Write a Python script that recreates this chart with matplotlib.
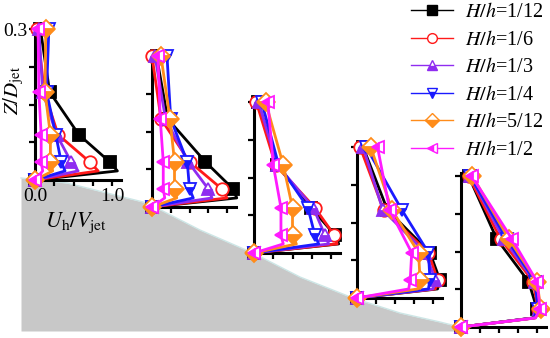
import numpy as np
import matplotlib
matplotlib.use('Agg')
import matplotlib.pyplot as plt
from matplotlib.lines import Line2D

plt.rcParams['font.family'] = ['Liberation Serif', 'DejaVu Serif']
plt.rcParams['mathtext.fontset'] = 'stix'

# H/h cases
cases = ['1/12', '1/6', '1/3', '1/4', '5/12', '1/2']
colors = ['black', '#ff1a1a', '#8f2cf0', '#1a1aff', '#ff8c1a', '#ff1aff']
markers = ['s', 'o', '^', 'v', 'D', '<']
fills = ['full', 'full', 'bottom', 'bottom', 'bottom', 'left']
face = ['black', 'white', None, None, None, None]

# heights Z/D_jet of the profile points (markers on all but the second)
z = [0, 0.018, 0.036, 0.09, 0.175, 0.3]

# U_h/V_jet at each station, one row per case
u_st1 = [[0, 1.07, 0.97, 0.57, 0.19, 0.07],
         [0, 0.82, 0.71, 0.30, 0.12, 0.03],
         [0, 0.56, 0.47, 0.28, 0.10, 0.05],
         [0, 0.39, 0.34, 0.27, 0.15, 0.18],
         [0, 0.23, 0.20, 0.20, 0.13, 0.14],
         [0, 0.10, 0.08, 0.08, 0.05, 0.04]]
u_st2 = [[0, 1.13, 1.08, 0.71, 0.21, 0.06],
         [0, 1.00, 0.93, 0.50, 0.12, 0.00],
         [0, 0.80, 0.75, 0.48, 0.18, 0.04],
         [0, 0.55, 0.50, 0.47, 0.25, 0.20],
         [0, 0.33, 0.30, 0.30, 0.24, 0.12],
         [0, 0.17, 0.15, 0.15, 0.11, 0.08]]
u_st3 = [[0, 1.10, 1.05, 0.74, 0.30, 0.05],
         [0, 1.08, 1.04, 0.79, 0.28, 0.03],
         [0, 0.97, 0.92, 0.77, 0.30, 0.06],
         [0, 0.84, 0.79, 0.70, 0.32, 0.10],
         [0, 0.55, 0.50, 0.50, 0.38, 0.15],
         [0, 0.38, 0.35, 0.35, 0.25, 0.18]]
u_st4 = [[0, 1.06, 1.09, 0.96, 0.40, 0.08],
         [0, 1.03, 1.06, 0.94, 0.35, 0.04],
         [0, 1.00, 1.03, 0.90, 0.34, 0.08],
         [0, 0.94, 0.96, 0.94, 0.59, 0.12],
         [0, 0.80, 0.83, 0.81, 0.46, 0.18],
         [0, 0.68, 0.70, 0.72, 0.43, 0.27]]
u_st5 = [[0, 0.95, 1.00, 0.89, 0.47, 0.10],
         [0, 0.96, 1.01, 0.95, 0.52, 0.10],
         [0, 0.97, 1.02, 0.97, 0.56, 0.12],
         [0, 0.96, 1.01, 0.98, 0.60, 0.12],
         [0, 0.98, 1.05, 1.00, 0.63, 0.15],
         [0, 0.98, 1.04, 1.00, 0.67, 0.14]]
stations = [u_st1, u_st2, u_st3, u_st4, u_st5]

# slope outline (pixels)
slope_x = [21, 67, 147, 200, 253, 300, 353, 400, 440, 460]
slope_y = [178, 183, 203, 230, 253, 277, 298, 313, 322, 327]

W, H = 550, 338
fig = plt.figure(figsize=(W/100, H/100), dpi=100)
bg = fig.add_axes([0, 0, 1, 1])
bg.set_xlim(0, W)
bg.set_ylim(H, 0)
bg.axis('off')
bg.fill_between(slope_x, slope_y, 331, color='#c8c8c8', lw=0)
bg.plot(slope_x, slope_y, color='#cde6e6', lw=1)

# inset placement: left spine x, bottom y, pixels per unit U
pos = [(35, 180, 77), (152, 207, 75), (254, 253, 77), (357, 298, 76), (461, 327, 76)]

for k, (x0, yb, sx) in enumerate(pos):
    w = 1.12*sx
    h = 0.306/0.3*151
    ax = fig.add_axes([x0/W, 1-yb/H, w/W, h/H])
    ax.patch.set_alpha(0)
    for i in range(6):
        ax.plot(stations[k][i], z, color=colors[i], lw=2, marker=markers[i],
                markevery=[0, 2, 3, 4, 5], ms=9, mew=1.3, mec=colors[i],
                fillstyle=fills[i], mfc=face[i] or colors[i], mfcalt='white',
                clip_on=False, zorder=3+i)
    ax.set_xlim(0, 1.12)
    ax.set_ylim(0, 0.306)
    ax.spines['top'].set_visible(False)
    ax.spines['right'].set_visible(False)
    ax.spines['left'].set_linewidth(2.2)
    ax.spines['bottom'].set_linewidth(2.2)
    ax.set_xticks([0, 0.25, 0.5, 0.75, 1.0])
    ax.set_yticks([0, 0.075, 0.15, 0.225, 0.3])
    ax.tick_params(direction='out', length=4.5, width=1.6, labelsize=14, pad=1)
    if k == 0:
        ax.set_xticklabels(['0.0', '', '', '', '1.0'])
        ax.set_yticklabels(['', '', '', '', '0.3'])
        ax.set_xlabel(r'$U_{\rm h}/V_{\rm jet}$', fontsize=16, labelpad=0)
        ax.xaxis.set_label_coords(0.48, -0.2)
        ax.set_ylabel(r'$Z/D_{\rm jet}$', fontsize=15, labelpad=0)
        ax.yaxis.set_label_coords(-0.1, 0.58)
    else:
        ax.set_xticklabels([])
        ax.set_yticklabels([])

handles = []
for i in range(6):
    handles.append(Line2D([], [], color=colors[i], lw=1, marker=markers[i], ms=7,
                          mew=1, mec=colors[i], fillstyle=fills[i],
                          mfc=face[i] or colors[i], mfcalt='white',
                          label=r'$H/h$=' + cases[i]))
bg.legend(handles=handles, loc='upper left', bbox_to_anchor=(410/W, 1 - 2/H),
          frameon=False, fontsize=14.5, handlelength=2.1, handletextpad=0.6,
          labelspacing=0.42, borderpad=0.05, borderaxespad=0)

plt.savefig('out.png', dpi=100)
